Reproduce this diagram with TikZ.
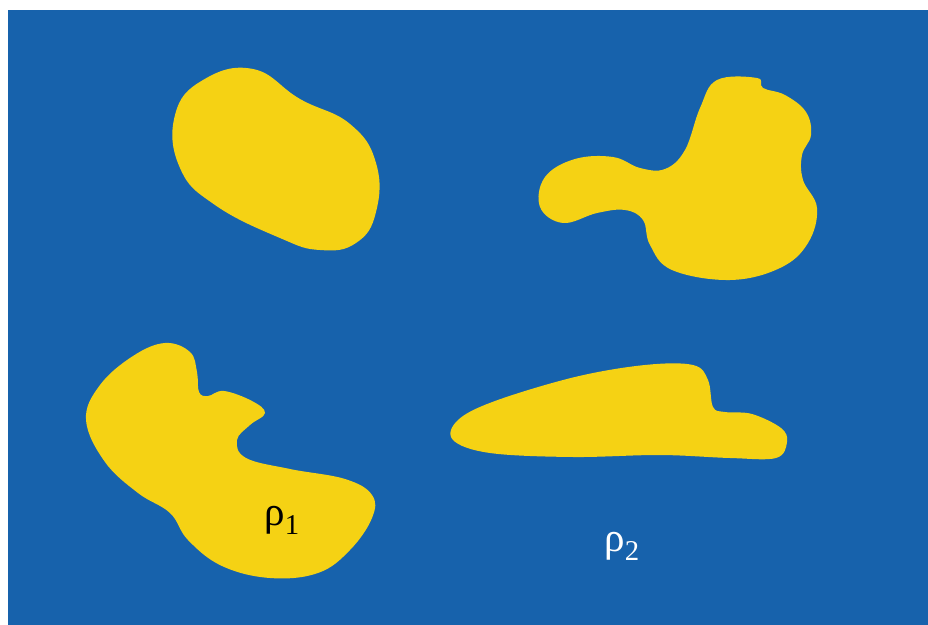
\documentclass[tikz,border=0pt]{standalone}
\usepackage{fontspec}
\usepackage{tikz}
\usepackage{xcolor}
\usetikzlibrary{positioning}
\newfontfamily\grkfont{Liberation Serif}
\definecolor{cBlue}{RGB}{23,98,172}
\definecolor{cYellow}{RGB}{245,210,20}
\tikzset{
	blob/.style={fill=cYellow, draw=none},
	density/.style={font=\fontsize{35}{40}\selectfont\grkfont, inner sep=0pt},
}
\begin{document}
\begin{tikzpicture}[x=0.03cm, y=-0.03cm]
	\useasboundingbox (0,0) rectangle (928,625);
	\fill[cBlue] (8,10) rectangle (928,625);
	% top left
	\fill[blob] plot[smooth cycle, tension=0.75] coordinates {
		(253,69) (300,99) (350,124) (376,163) (376,212) (356,243) (320,250)
		(280,238) (215,205) (180,168) (175,115) (203,80)};
	% top right
	\fill[blob] plot[smooth cycle, tension=0.65] coordinates {
		(717,80) (757,78) (763,88) (785,95) (806,112) (811,135) (802,155)
		(803,180) (817,208) (808,243) (780,268) (730,280) (672,270) (650,245)
		(643,220) (625,210) (597,213) (563,223) (540,207) (545,177) (575,159)
		(613,157) (640,168) (665,169) (685,150) (700,108)};
	% bottom left
	\fill[blob] plot[smooth cycle, tension=0.65] coordinates {
		(165,343) (190,352) (197,372) (199,392) (208,396) (224,391) (252,401)
		(265,413) (250,425) (237,440) (246,458) (290,469) (345,479) (372,495)
		(372,518) (350,550) (318,573) (270,578) (222,566) (188,540) (170,513)
		(138,493) (105,462) (86,420) (100,385) (133,356)};
	% bottom middle
	\fill[blob] plot[smooth cycle, tension=0.6] coordinates {
		(693,365) (708,380) (713,407) (725,412) (752,414) (781,428) (787,442)
		(776,458) (730,458) (660,455) (573,457) (490,453) (453,440) (458,420)
		(495,401) (575,377) (645,365)};
	\node[density, text=black] (rhoA) at (282,520) {ρ\textsubscript{1}};
	\node[density, text=white] (rhoB) at (622,546) {ρ\textsubscript{2}};
\end{tikzpicture}
\end{document}
